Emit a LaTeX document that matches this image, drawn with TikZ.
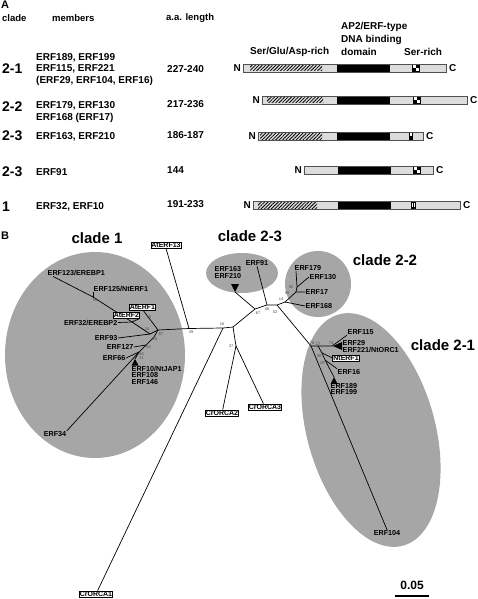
\documentclass[tikz,border=0pt]{standalone}
\usepackage{fontspec}
\setmainfont{Liberation Sans}
\usetikzlibrary{patterns.meta}
\definecolor{cgray}{RGB}{166,166,166}
\definecolor{barfill}{RGB}{220,220,220}
\definecolor{barline}{RGB}{80,80,80}
\newcommand{\ckbox}[2]{%
  \fill[black] (#1,#2-4) rectangle (#1+8,#2+4);
  \fill[white] (#1+1.2,#2-2.8) rectangle (#1+3.8,#2-0.2);
  \fill[white] (#1+4.2,#2+0.2) rectangle (#1+6.8,#2+2.8);}
\newcommand{\pbar}[4]{% left, right, yc
  \filldraw[barbox] (#1,#3-4) rectangle (#2,#3+4);}
\begin{document}
\begin{tikzpicture}[x=1pt,y=-1pt,
  hdr/.style={font=\fontsize{9.5}{11}\selectfont\bfseries, inner sep=0pt, anchor=west},
  mem/.style={font=\fontsize{10}{12}\selectfont\bfseries, inner sep=0pt, anchor=west},
  cn/.style={font=\fontsize{14}{16}\selectfont\bfseries, inner sep=0pt, anchor=west},
  nc/.style={font=\fontsize{10}{12}\selectfont\bfseries, inner sep=0pt},
  cladelab/.style={font=\fontsize{15}{17}\selectfont\bfseries, inner sep=0pt},
  lab/.style={font=\fontsize{7.2}{8}\selectfont\bfseries, inner sep=0.5pt},
  boxlab/.style={draw, fill=white, line width=0.6pt, font=\fontsize{7}{7.5}\selectfont\bfseries, inner sep=0.6pt},
  num/.style={font=\fontsize{4}{4}\selectfont, text=black!70, inner sep=0pt},
  br/.style={line width=0.7pt},
  blob/.style={fill=cgray},
  barbox/.style={fill=barfill, draw=barline, line width=0.6pt},
  hatch/.style={pattern={Lines[angle=45,distance=2.4pt,line width=0.8pt]}, pattern color=black}
]
\useasboundingbox (0,0) rectangle (478,599);

% ================= Panel A =================
\node[font=\fontsize{11}{12}\selectfont\bfseries, inner sep=0pt] (A) at (5,5) {A};
\node[hdr] (hclade) at (2,18) {clade};
\node[hdr] (hmem) at (52,18) {members};
\node[hdr] (hlen) at (166,18) {a.a. length};
\node[mem] (hap2) at (341,27) {AP2/ERF-type};
\node[mem] (hdna) at (341,39.5) {DNA binding};
\node[mem] (hdom) at (341,52) {domain};
\node[mem] (hser1) at (250,52) {Ser/Glu/Asp-rich};
\node[mem] (hser2) at (404,52) {Ser-rich};

\node[cn] (c21) at (2,69) {2-1};
\node[cn] (c22) at (2,107) {2-2};
\node[cn] (c23a) at (2,136) {2-3};
\node[cn] (c23b) at (2,172) {2-3};
\node[cn] (c1) at (2,207) {1};

\node[mem] (m1a) at (36,57.5) {ERF189, ERF199};
\node[mem] (m1b) at (36,69) {ERF115, ERF221};
\node[mem] (m1c) at (36,80.5) {(ERF29, ERF104, ERF16)};
\node[mem] (m2a) at (36,106) {ERF179, ERF130};
\node[mem] (m2b) at (36,117.5) {ERF168 (ERF17)};
\node[mem] (m3) at (36,137) {ERF163, ERF210};
\node[mem] (m4) at (36,172.5) {ERF91};
\node[mem] (m5) at (36,207) {ERF32, ERF10};

\node[mem] (l1) at (167,69) {227-240};
\node[mem] (l2) at (167,104) {217-236};
\node[mem] (l3) at (167,135) {186-187};
\node[mem] (l4) at (167,170) {144};
\node[mem] (l5) at (167,204) {191-233};

% row 2-1
\pbar{243}{446}{68}{}
\fill[hatch] (250,65) rectangle (322,71);
\fill[black] (337,64) rectangle (390,72);
\ckbox{412}{68}
\draw[barline, line width=0.6pt] (243,64) rectangle (446,72);
\node[nc, anchor=east] (n1) at (241,68) {N};
\node[nc, anchor=west] (k1) at (449,68) {C};
% row 2-2
\pbar{262}{467}{100}{}
\fill[hatch] (267,97) rectangle (323,103);
\fill[black] (337,96) rectangle (390,104);
\ckbox{413}{100}
\draw[barline, line width=0.6pt] (262,96) rectangle (467,104);
\node[nc, anchor=east] (n2) at (260,100) {N};
\node[nc, anchor=west] (k2) at (470,100) {C};
% row 2-3a
\pbar{258}{423}{136}{}
\fill[hatch] (260,133) rectangle (322,139);
\fill[black] (337,132) rectangle (390,140);
\fill[black] (409,132) rectangle (413,140);
\fill[white] (410.3,133) rectangle (411.7,136);
\draw[barline, line width=0.6pt] (258,132) rectangle (423,140);
\node[nc, anchor=east] (n3) at (256,136) {N};
\node[nc, anchor=west] (k3) at (426,136) {C};
% row 2-3b
\pbar{304}{433}{170}{}
\fill[black] (338,166) rectangle (391,174);
\ckbox{413}{170}
\draw[barline, line width=0.6pt] (304,166) rectangle (433,174);
\node[nc, anchor=east] (n4) at (302,170) {N};
\node[nc, anchor=west] (k4) at (436,170) {C};
% row 1
\pbar{253}{460}{205}{}
\fill[hatch] (258,202) rectangle (317,208);
\fill[black] (338,201) rectangle (391,209);
\fill[black] (411,201) rectangle (416,209);
\fill[white] (412.2,202.5) rectangle (413,207);
\fill[white] (414,202.5) rectangle (414.8,207);
\draw[barline, line width=0.6pt] (253,201) rectangle (460,209);
\node[nc, anchor=east] (n5) at (251,205) {N};
\node[nc, anchor=west] (k5) at (463,205) {C};

% ================= Panel B =================
\node[font=\fontsize{11}{12}\selectfont\bfseries, inner sep=0pt] (B) at (5,236) {B};

% clade blobs
\fill[blob] (95,355) ellipse [x radius=90, y radius=103];
\fill[blob] (242,273) ellipse [x radius=36, y radius=20];
\fill[blob] (318,284) circle [radius=33];
\fill[blob, rotate around={15.6:(371,430)}] (371,430) ellipse [x radius=64, y radius=120];

\node[cladelab] (cl1) at (97,238) {clade 1};
\node[cladelab] (cl23) at (250,236) {clade 2-3};
\node[cladelab] (cl22) at (385,260) {clade 2-2};
\node[cladelab] (cl21) at (443,345) {clade 2-1};

% junction coordinates
\coordinate (j49) at (189,328.5);
\coordinate (k67) at (158,330);
\coordinate (j16) at (223,328);
\coordinate (jx) at (233,327);
\coordinate (j37) at (236,346);
\coordinate (j67) at (255,309);
\coordinate (j46) at (267,305);
\coordinate (j52) at (277,305);
\coordinate (j14) at (285,302);
\coordinate (j58) at (296,292);
\coordinate (j92) at (297,287);
\coordinate (j78) at (311,346);
\coordinate (j17) at (318,346);
\coordinate (j73) at (332,346);
\coordinate (j30) at (322,353);
\coordinate (j28) at (325,360);
\coordinate (k24) at (150,334);
\coordinate (k34) at (132,322);
\coordinate (k98) at (93,297);
\coordinate (k16) at (154,337);
\coordinate (k50) at (146,345);
\coordinate (k46) at (139,352);
\coordinate (t163) at (235,292);
\coordinate (t29) at (333,346);
\coordinate (t189) at (334,377);
\coordinate (t10) at (135,359);

% labels (clade 1)
\node[lab, anchor=west] (ERF123) at (47,273) {ERF123/EREBP1};
\node[lab, anchor=west] (ERF125) at (93,288.5) {ERF125/NtERF1};
\node[lab, anchor=east] (ERF32) at (118,322.5) {ERF32/EREBP2};
\node[lab, anchor=east] (ERF93) at (118,338) {ERF93};
\node[lab, anchor=east] (ERF127) at (134,347) {ERF127};
\node[lab, anchor=east] (ERF66) at (126,358) {ERF66};
\node[lab, anchor=west] (ERF10) at (131,369) {ERF10/NtJAP1};
\node[lab, anchor=west] (ERF108) at (131,375.5) {ERF108};
\node[lab, anchor=west] (ERF146) at (131,382) {ERF146};
\node[lab] (ERF34) at (55,434) {ERF34};
% clade 2-3
\node[lab, anchor=west] (ERF163) at (214,269) {ERF163};
\node[lab, anchor=west] (ERF210) at (214,276.5) {ERF210};
\node[lab] (ERF91) at (257,263) {ERF91};
% clade 2-2
\node[lab, anchor=west] (ERF179) at (294,268) {ERF179};
\node[lab, anchor=west] (ERF130) at (309,277) {ERF130};
\node[lab, anchor=west] (ERF17) at (305,292) {ERF17};
\node[lab, anchor=west] (ERF168) at (305,306) {ERF168};
% clade 2-1
\node[lab, anchor=west] (ERF115) at (347,332) {ERF115};
\node[lab, anchor=west] (ERF29) at (342,342.6) {ERF29};
\node[lab, anchor=west] (ERF221) at (342,350.2) {ERF221/NtORC1};
\node[lab, anchor=west] (ERF16) at (337,372) {ERF16};
\node[lab, anchor=west] (ERF189) at (330,386) {ERF189};
\node[lab, anchor=west] (ERF199) at (330,392.5) {ERF199};
\node[lab] (ERF104) at (387,533) {ERF104};

% branches
\begin{scope}[br]
\draw (k67) -- (j49) -- (j16) -- (jx);
\draw (jx) -- (j37);
\draw (jx) -- (j67) -- (j46) -- (j52) -- (j14);
\draw (j67) -- (t163);
\draw (j46) -- (ERF91.south);
\draw (j14) -- (ERF168.west);
\draw (j14) -- (j58) -- (ERF17.west);
\draw (j58) -- (j92) -- ([xshift=2pt]ERF179.south west);
\draw (j92) -- (ERF130.west);
\draw (j52) -- (j78) -- (ERF104.north);
\draw (j78) -- (j17) -- (j73) -- (ERF115.south west);
\draw (j17) -- (j30) -- (j28) -- (ERF16.north west);
\draw (j28) -- (t189);
% clade 1
\draw (k67) -- (k24) -- (ERF93.east);
\draw (k24) -- (k34) -- (k98) -- ([xshift=6pt]ERF123.south west);
\draw (k98) -- (ERF125.south west);
\draw (k34) -- (ERF32.east);
\draw (k67) -- (k16) -- (k50) -- (ERF127.east);
\draw (k50) -- (k46) -- (ERF66.east);
\draw (k46) -- (t10);
\draw (k46) -- (ERF34.north east);
\end{scope}

% boxed labels
\node[boxlab] (AtERF13) at (166,245) {AtERF13};
\node[boxlab] (AtERF1) at (142.5,307.5) {AtERF1};
\node[boxlab] (AtERF2) at (126.5,315) {AtERF2};
\node[boxlab] (NtERF1) at (346,358) {NtERF1};
\node[boxlab] (CrORCA2) at (222,413) {CrORCA2};
\node[boxlab] (CrORCA3) at (265,407) {CrORCA3};
\node[boxlab] (CrORCA1) at (96,594) {CrORCA1};

\begin{scope}[br]
\draw (AtERF13.south) -- (j49);
\draw (k67) -- ([xshift=1pt]AtERF1.south);
\draw (AtERF2.south east) -- (k34);
\draw (j30) -- (NtERF1.west);
\draw (j16) -- (CrORCA1);
\draw (j37) -- (CrORCA2);
\draw (j37) -- (CrORCA3);
\end{scope}

% triangles
\fill (t163) -- ++(-4,-8) -- ++(8,0) -- cycle;
\fill (t29) -- ++(9,-4) -- ++(0,8) -- cycle;
\fill (t189) -- ++(-3.5,7) -- ++(7,0) -- cycle;
\fill (t10) -- ++(-3.5,6.5) -- ++(7,0) -- cycle;

% bootstrap numbers
\node[num] at (95,300) {98};
\node[num] at (135,320.5) {34};
\node[num] at (149,317) {60};
\node[num] at (147,329.5) {24};
\node[num] at (161,334) {67};
\node[num] at (155,339.5) {16};
\node[num] at (148.5,347) {50};
\node[num] at (141.5,354) {46};
\node[num] at (141.5,358) {31};
\node[num] at (191,332.5) {49};
\node[num] at (222,324.5) {16};
\node[num] at (231,346) {37};
\node[num] at (258,313) {67};
\node[num] at (267,309) {46};
\node[num] at (275,312) {52};
\node[num] at (281,299) {14};
\node[num] at (287,293) {58};
\node[num] at (291,287) {92};
\node[num] at (312,343) {78};
\node[num] at (318,344) {17};
\node[num] at (331,343) {73};
\node[num] at (319,356) {30};
\node[num] at (322,363) {28};

% scale bar
\node[font=\fontsize{12}{14}\selectfont\bfseries, inner sep=0pt] (sc) at (412,585) {0.05};
\draw[line width=2pt] (395,596) -- (429,596);
\end{tikzpicture}
\end{document}
